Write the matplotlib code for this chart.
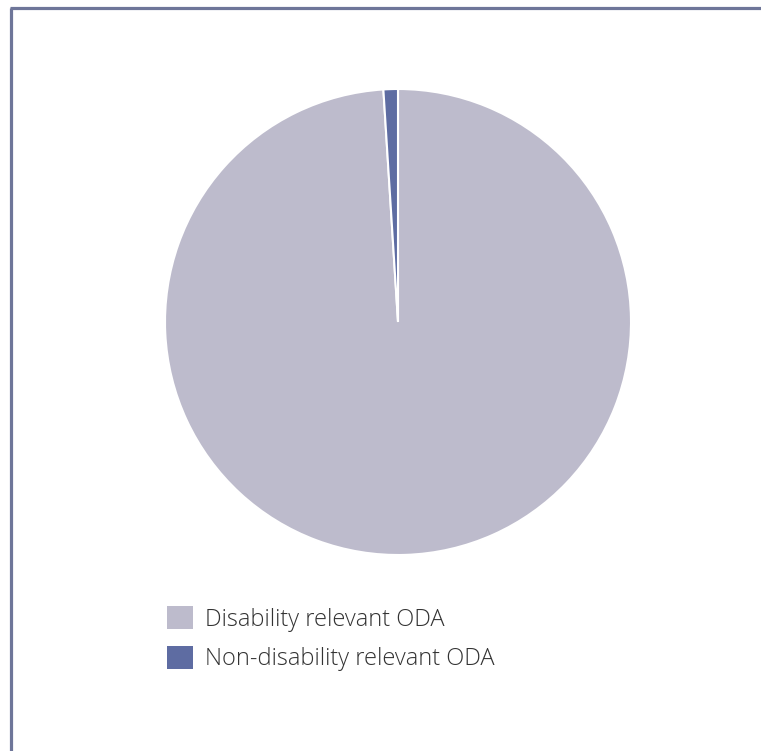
import matplotlib
matplotlib.use("Agg")
import matplotlib.pyplot as plt
from matplotlib.lines import Line2D

labels = ["Disability relevant ODA", "Non-disability relevant ODA"]
shares = [99.0, 1.0]
colors = ["#BDBBCC", "#5E6CA2"]

plt.rcParams['font.family'] = ['Open Sans', 'DejaVu Sans']

W, H = 761, 751
fig = plt.figure(figsize=(W / 100, H / 100), dpi=100)

# pie area in pixels: center (398, 322), radius 233
cx, cy, r = 398, 322, 233
ax = fig.add_axes([(cx - r) / W, (H - cy - r) / H, 2 * r / W, 2 * r / H])
wedges, _ = ax.pie(shares, colors=colors, startangle=90, counterclock=False,
                   wedgeprops=dict(edgecolor="white", linewidth=1.5))
ax.set_xlim(-1, 1)
ax.set_ylim(-1, 1)
ax.set_aspect("equal")

leg = fig.legend(wedges, labels, loc="upper left",
                 bbox_to_anchor=(167 / W, 1 - 606 / H), frameon=False,
                 prop=dict(size=17, weight="light"), labelcolor="#333333",
                 handlelength=1.1, handleheight=1.12, handletextpad=0.5,
                 labelspacing=0.6, borderpad=0, borderaxespad=0)
for h in leg.legend_handles:
    h.set_edgecolor("none")

# frame lines: left and top
frame_color = "#6E7699"
fig.add_artist(Line2D([11 / W, 11 / W], [0, 1 - 8 / H], color=frame_color, linewidth=2.3,
                      transform=fig.transFigure, solid_capstyle="butt"))
fig.add_artist(Line2D([11 / W - 0.0015, 1], [1 - 8 / H, 1 - 8 / H], color=frame_color, linewidth=2.3,
                      transform=fig.transFigure, solid_capstyle="butt"))

fig.savefig("out.png", dpi=100)
